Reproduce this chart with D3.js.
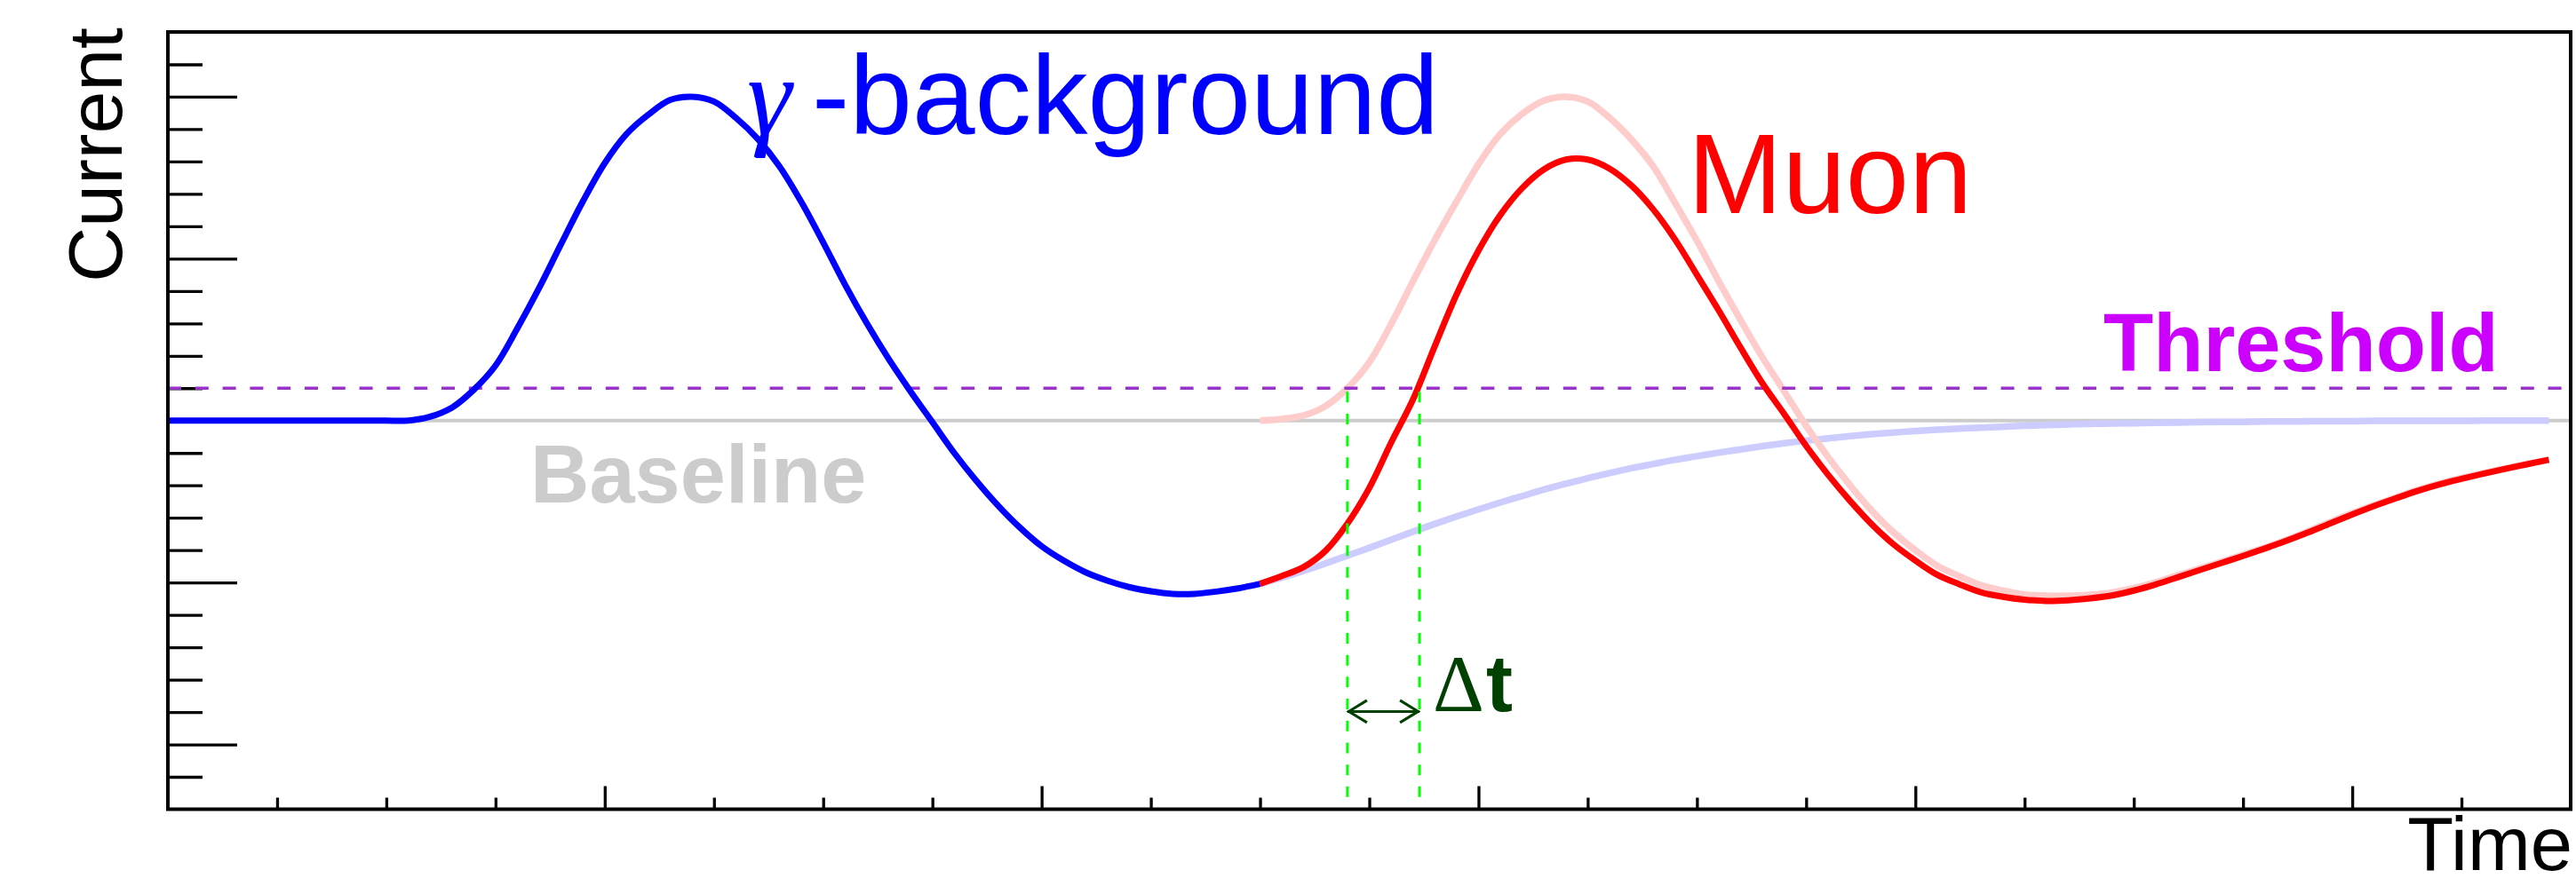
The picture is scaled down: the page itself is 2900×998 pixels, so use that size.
<!DOCTYPE html>
<html>
<head>
<meta charset="utf-8">
<script src="https://cdn.jsdelivr.net/npm/d3@7"></script>
<style>
  html, body { margin: 0; padding: 0; background: #ffffff; }
  svg { display: block; }
</style>
</head>
<body>
<script>
// ---------------- data ----------------
// time samples (ns) of the gamma-background pulse before the muon arrives
const tEarly = [0,2,4,6,8,10,12,14,16,18,20,22,24,26,28,30,32,34,36,38,40,42,44,46,48,50,
  52,54,56,58,60,62,64,66,68,70,72,74,76,78,80,82,84,86,88,90,92,94,96,98,100];
const gammaEarly = [0,0,0,0,0,0,0,0,0,0,0,0,0.012,0.04,0.095,0.17,0.285,0.41,0.545,0.677,0.795,
  0.885,0.945,0.99,1.0,0.985,0.935,0.87,0.785,0.675,0.55,0.42,0.30,0.19,0.09,-0.005,-0.10,
  -0.185,-0.262,-0.33,-0.388,-0.432,-0.468,-0.494,-0.514,-0.527,-0.535,-0.535,-0.528,-0.518,-0.504];

// time samples (ns) after the muon arrives
const tLate = [100,102,104,106,108,110,112,114,116,118,120,122,124,126,128,130,132,134,136,138,
  140,142,144,146,148,150,152,154,156,158,160,162,164,166,168,170,172,174,176,178,
  180,182,184,186,188,190,192,194,196,198,200,202,204,206,208,210,212,214,216,218];
// faded continuation of the gamma-background tail
const gammaTail = [-0.504,-0.485,-0.464,-0.441,-0.417,-0.393,-0.368,-0.343,-0.319,-0.296,
  -0.274,-0.253,-0.233,-0.213,-0.195,-0.178,-0.162,-0.147,-0.134,-0.121,
  -0.11,-0.099,-0.089,-0.079,-0.07,-0.062,-0.055,-0.048,-0.042,-0.037,
  -0.032,-0.028,-0.025,-0.022,-0.019,-0.016,-0.014,-0.012,-0.01,-0.009,
  -0.008,-0.007,-0.006,-0.005,-0.004,-0.004,-0.003,-0.003,-0.002,-0.002,
  -0.002,-0.001,-0.001,-0.001,-0.001,-0.001,0,0,0,0];
// faded muon pulse alone
const muonAlone = [0,0.005,0.016,0.045,0.10,0.18,0.298,0.43,0.558,0.677,
  0.792,0.885,0.947,0.988,1.0,0.985,0.935,0.868,0.785,0.672,
  0.555,0.43,0.31,0.195,0.09,-0.016,-0.112,-0.199,-0.278,-0.345,
  -0.40,-0.448,-0.48,-0.508,-0.525,-0.537,-0.541,-0.541,-0.538,-0.531,
  -0.517,-0.499,-0.478,-0.457,-0.436,-0.414,-0.392,-0.368,-0.341,-0.313,
  -0.286,-0.261,-0.237,-0.214,-0.194,-0.177,-0.162,-0.148,-0.134,-0.121];
// measured signal (muon on top of the background tail)
const muonMeasured = [-0.504,-0.48,-0.452,-0.402,-0.318,-0.208,-0.068,0.065,0.23,0.39,
  0.525,0.635,0.718,0.776,0.806,0.806,0.778,0.726,0.652,0.559,
  0.45,0.34,0.225,0.115,0.02,-0.078,-0.167,-0.247,-0.32,-0.382,
  -0.432,-0.476,-0.505,-0.53,-0.544,-0.553,-0.557,-0.555,-0.549,-0.54,
  -0.525,-0.506,-0.484,-0.462,-0.44,-0.418,-0.395,-0.371,-0.345,-0.317,
  -0.29,-0.264,-0.24,-0.217,-0.197,-0.18,-0.164,-0.149,-0.135,-0.121];

const thresholdLevel = 0.1;
const baselineLevel = 0;
const crossTimes = [108.0, 114.6];   // threshold crossings: muon alone, measured

const xDomain = [0, 220];
const yDomain = [-1.2, 1.2];
const xMajorTicks = [40, 80, 120, 160, 200];
const xMinorTicks = [10,20,30,50,60,70,90,100,110,130,140,150,170,180,190,210];
const yMajorTicks = [-1, -0.5, 0, 0.5, 1];
const yMinorTicks = [-1.1,-0.9,-0.8,-0.7,-0.6,-0.4,-0.3,-0.2,-0.1,0.1,0.2,0.3,0.4,0.6,0.7,0.8,0.9,1.1];

// ---------------- drawing ----------------
const W = 2900, H = 998;
const L = 189, R = 2894, T = 36, B = 911.5;
const SANS = "'Liberation Sans', Arial, Helvetica, sans-serif";
const SERIF = "'Liberation Serif', 'Times New Roman', serif";

const svg = d3.select("body").append("svg")
  .attr("width", W).attr("height", H)
  .attr("viewBox", `0 0 ${W} ${H}`);
svg.append("rect").attr("width", W).attr("height", H).attr("fill", "#ffffff");

const x = d3.scaleLinear().domain(xDomain).range([L, R]);
const y = d3.scaleLinear().domain(yDomain).range([B, T]);

// axes ticks (inward, no labels)
function styleAxis(g, w) {
  g.select(".domain").remove();
  g.selectAll(".tick line").attr("stroke", "#000").attr("stroke-width", w);
  g.selectAll(".tick text").remove();
}
svg.append("g").attr("transform", `translate(${L},0)`)
  .call(d3.axisRight(y).tickValues(yMinorTicks).tickSize(39).tickFormat(""))
  .call(g => styleAxis(g, 3.3));
svg.append("g").attr("transform", `translate(${L},0)`)
  .call(d3.axisRight(y).tickValues(yMajorTicks).tickSize(78).tickFormat(""))
  .call(g => styleAxis(g, 3.3));
svg.append("g").attr("transform", `translate(0,${B})`)
  .call(d3.axisTop(x).tickValues(xMinorTicks).tickSize(13).tickFormat(""))
  .call(g => styleAxis(g, 3.3));
svg.append("g").attr("transform", `translate(0,${B})`)
  .call(d3.axisTop(x).tickValues(xMajorTicks).tickSize(26).tickFormat(""))
  .call(g => styleAxis(g, 3.3));

// baseline
svg.append("line")
  .attr("x1", x(xDomain[0])).attr("x2", x(xDomain[1]))
  .attr("y1", y(baselineLevel)).attr("y2", y(baselineLevel))
  .attr("stroke", "#cccccc").attr("stroke-width", 4);

const line = d3.line().x(d => x(d[0])).y(d => y(d[1])).curve(d3.curveCatmullRom.alpha(0.5));
const zip = (ts, vs) => ts.map((t, i) => [t, vs[i]]);

// faded curves
svg.append("path").datum(zip(tLate, gammaTail)).attr("d", line)
  .attr("fill", "none").attr("stroke", "#ccccff").attr("stroke-width", 7.5)
  .attr("stroke-linejoin", "round");
svg.append("path").datum(zip(tLate, muonAlone)).attr("d", line)
  .attr("fill", "none").attr("stroke", "#ffcccc").attr("stroke-width", 7.5)
  .attr("stroke-linejoin", "round");

// threshold
svg.append("line")
  .attr("x1", x(xDomain[0])).attr("x2", x(xDomain[1]))
  .attr("y1", y(thresholdLevel)).attr("y2", y(thresholdLevel))
  .attr("stroke", "#9933cc").attr("stroke-width", 3.5)
  .attr("stroke-dasharray", "15 15.8");

// main curves
svg.append("path").datum(zip(tEarly, gammaEarly)).attr("d", line)
  .attr("fill", "none").attr("stroke", "#0000ff").attr("stroke-width", 7)
  .attr("stroke-linejoin", "round");
svg.append("path").datum(zip(tLate, muonMeasured)).attr("d", line)
  .attr("fill", "none").attr("stroke", "#ff0000").attr("stroke-width", 7)
  .attr("stroke-linejoin", "round");

// crossing markers
svg.selectAll("line.cross").data(crossTimes).join("line")
  .attr("class", "cross")
  .attr("x1", d => x(d)).attr("x2", d => x(d))
  .attr("y1", y(thresholdLevel) + 4).attr("y2", B)
  .attr("stroke", "#00ff00").attr("stroke-width", 3)
  .attr("stroke-dasharray", "12 12.7");

// delta-t arrow
const ay = 801.4, xa = x(crossTimes[0]), xb = x(crossTimes[1]);
const dg = "#004000";
svg.append("line").attr("x1", xa).attr("x2", xb).attr("y1", ay).attr("y2", ay)
  .attr("stroke", dg).attr("stroke-width", 3);
svg.append("path")
  .attr("d", `M${xa + 22},${ay - 12.5} L${xa + 1.5},${ay} L${xa + 22},${ay + 12.5}` +
             `M${xb - 22},${ay - 12.5} L${xb - 1.5},${ay} L${xb - 22},${ay + 12.5}`)
  .attr("fill", "none").attr("stroke", dg).attr("stroke-width", 3);

const dt = svg.append("text").attr("y", 801).attr("fill", dg).attr("font-size", 90);
dt.append("tspan").attr("x", 1613).attr("font-family", SERIF).text("Δ");
dt.append("tspan").attr("x", 1673).attr("font-family", SANS).attr("font-weight", "bold").text("t");

// frame
svg.append("rect").attr("x", L).attr("y", T).attr("width", R - L).attr("height", B - T)
  .attr("fill", "none").attr("stroke", "#000").attr("stroke-width", 4);

// labels
svg.append("text").attr("transform", `translate(137,31) rotate(-90)`)
  .attr("text-anchor", "end").attr("font-family", SANS).attr("font-size", 86)
  .attr("fill", "#000").text("Current");
svg.append("text").attr("x", 2896).attr("y", 980).attr("text-anchor", "end")
  .attr("font-family", SANS).attr("font-size", 85).attr("fill", "#000").text("Time");

svg.append("text").attr("x", 841).attr("y", 150.7)
  .attr("font-family", SERIF).attr("font-style", "italic").attr("font-size", 127)
  .attr("fill", "#0000ff").text("γ");
svg.append("text").attr("x", 914).attr("y", 150.7)
  .attr("font-family", SANS).attr("font-size", 127)
  .attr("fill", "#0000ff").text("-background");
svg.append("text").attr("x", 1900).attr("y", 239.5)
  .attr("font-family", SANS).attr("font-size", 128)
  .attr("fill", "#ff0000").text("Muon");
svg.append("text").attr("x", 2368).attr("y", 418.3)
  .attr("font-family", SANS).attr("font-weight", "bold").attr("font-size", 92)
  .attr("fill", "#cc00ff").text("Threshold");
svg.append("text").attr("x", 597).attr("y", 566)
  .attr("font-family", SANS).attr("font-weight", "bold").attr("font-size", 92)
  .attr("fill", "#cccccc").text("Baseline");
</script>
</body>
</html>
